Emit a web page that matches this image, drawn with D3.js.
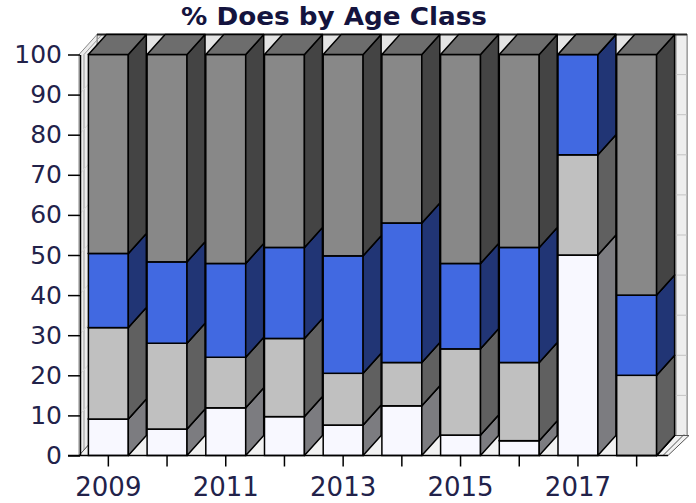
<!DOCTYPE html>
<html>
<head>
<meta charset="utf-8">
<script src="https://cdnjs.cloudflare.com/ajax/libs/d3/7.8.5/d3.min.js"></script>
<style>
  html, body { margin: 0; padding: 0; background: #ffffff; }
  svg { display: block; }
  text { font-family: "DejaVu Sans", Verdana, sans-serif; }
</style>
</head>
<body>
<svg id="chart" width="696" height="503"></svg>
<script>
// ---- data ----
const years = [2009, 2010, 2011, 2012, 2013, 2014, 2015, 2016, 2017, 2018];
const ageClassA = [9.1, 6.6, 11.9, 9.7, 7.6, 12.4, 5.1, 3.7, 50, 0];      // white
const ageClassB = [22.8, 21.4, 12.6, 19.5, 12.9, 10.8, 21.5, 19.5, 25, 20]; // silver
const ageClassC = [18.5, 20.3, 23.4, 22.7, 29.3, 34.8, 21.3, 28.7, 25, 20]; // blue
const ageClassD = [49.6, 51.7, 52.1, 48.1, 50.2, 42.0, 52.1, 48.1, 0, 60];  // dark gray
const yTicks = [0, 10, 20, 30, 40, 50, 60, 70, 80, 90, 100];
const xLabelYears = [2009, 2011, 2013, 2015, 2017];
const title = "% Does by Age Class";

const seriesKeys = ["a", "b", "c", "d"];
const frontColors = { a: "#f8f8ff", b: "#c0c0c0", c: "#4169e1", d: "#888888" };
const sideColors  = { a: "#7c7c80", b: "#606060", c: "#213575", d: "#444444" };
const topColors   = { a: "#c6c6cc", b: "#9a9a9a", c: "#3454b4", d: "#6d6d6d" };

const table = years.map((yr, i) => ({
  year: yr, a: ageClassA[i], b: ageClassB[i], c: ageClassC[i], d: ageClassD[i]
}));

// ---- layout ----
const svg = d3.select("#chart");
const X0 = 79, X1 = 666, Y0 = 455.5, Y1 = 54.5;
const DX = 18, DY = 20;

const x = d3.scaleBand().domain(years).range([X0, X1]).paddingInner(0.32).paddingOuter(0.16);
const y = d3.scaleLinear().domain([0, 100]).range([Y0, Y1]);
const bw = x.bandwidth();

const poly = pts => pts.map(p => p.join(",")).join(" ");

// back wall
svg.append("rect")
  .attr("x", X0 + DX).attr("y", Y1 - DY)
  .attr("width", X1 - X0 + 3).attr("height", Y0 - Y1)
  .attr("fill", "#e4e4e4").attr("stroke", "#777").attr("stroke-width", 1);
svg.append("rect")
  .attr("x", X1 + DX - 8).attr("y", Y1 - DY)
  .attr("width", 11).attr("height", Y0 - Y1)
  .attr("fill", "#eeeeee").attr("stroke", "#888").attr("stroke-width", 1);
// gridlines on back wall
svg.append("g").selectAll("line").data(yTicks.slice(1, -1)).join("line")
  .attr("x1", X0 + DX).attr("x2", X1 + DX + 3)
  .attr("y1", d => y(d) - DY).attr("y2", d => y(d) - DY)
  .attr("stroke", "#c4c4c4").attr("stroke-width", 1);

// left wall
svg.append("polygon")
  .attr("points", poly([[X0, Y0], [X0 + DX, Y0 - DY], [X0 + DX, Y1 - DY], [X0, Y1]]))
  .attr("fill", "#ececec").attr("stroke", "#888").attr("stroke-width", 1);
svg.append("line")
  .attr("x1", X0 + 5).attr("x2", X0 + 5).attr("y1", Y1).attr("y2", Y0)
  .attr("stroke", "#999").attr("stroke-width", 1);
svg.append("line")
  .attr("x1", X0 + 5).attr("x2", X0 + 5 + DX).attr("y1", Y1).attr("y2", Y1 - DY)
  .attr("stroke", "#999").attr("stroke-width", 1);
svg.append("g").selectAll("line").data(yTicks.slice(1, -1)).join("line")
  .attr("x1", X0).attr("x2", X0 + DX)
  .attr("y1", d => y(d)).attr("y2", d => y(d) - DY)
  .attr("stroke", "#d8d8d8").attr("stroke-width", 1);

// floor
svg.append("polygon")
  .attr("points", poly([[X0, Y0], [X1 + 2, Y0], [X1 + DX + 5, Y0 - DY], [X0 + DX, Y0 - DY]]))
  .attr("fill", "#f2f2f2").attr("stroke", "#555").attr("stroke-width", 1);
svg.append("line")
  .attr("x1", X1 - 3).attr("y1", Y0).attr("x2", X1 + DX).attr("y2", Y0 - DY - 1)
  .attr("stroke", "#555").attr("stroke-width", 1);

// top edge of back wall
svg.append("line")
  .attr("x1", X0 + DX).attr("x2", X1 + DX + 3)
  .attr("y1", Y1 - DY).attr("y2", Y1 - DY)
  .attr("stroke", "#222").attr("stroke-width", 2);

// ---- bars ----
const stacked = d3.stack().keys(seriesKeys)(table);
const barsG = svg.append("g");
years.forEach((yr, i) => {
  const g = barsG.append("g");
  const xl = x(yr), xr = xl + bw;
  stacked.forEach(layer => {
    const key = layer.key;
    const v0 = layer[i][0], v1 = layer[i][1];
    const yb = y(v0), yt = y(v1);
    g.append("rect")
      .attr("x", xl).attr("y", yt).attr("width", bw).attr("height", yb - yt)
      .attr("fill", frontColors[key]).attr("stroke", "#000").attr("stroke-width", 1.5);
    g.append("polygon")
      .attr("points", poly([[xr, yb], [xr + DX, yb - DY], [xr + DX, yt - DY], [xr, yt]]))
      .attr("fill", sideColors[key]).attr("stroke", "#000").attr("stroke-width", 1.5)
      .attr("stroke-linejoin", "round");
    g.append("polygon")
      .attr("points", poly([[xl, yt], [xr, yt], [xr + DX, yt - DY], [xl + DX, yt - DY]]))
      .attr("fill", topColors[key]).attr("stroke", "#000").attr("stroke-width", 1.5)
      .attr("stroke-linejoin", "round");
  });
});

// ---- axes ----
const textColor = "#22224a";
const yAxis = svg.append("g")
  .attr("transform", `translate(${X0 + 1},0)`)
  .call(d3.axisLeft(y).tickValues(yTicks).tickSize(12).tickSizeOuter(0).tickPadding(6));
yAxis.select(".domain").attr("stroke", "#000").attr("stroke-width", 1.5);
yAxis.selectAll(".tick line").attr("stroke", "#000").attr("stroke-width", 1.5);
yAxis.selectAll("text").attr("fill", textColor).style("font-size", "25px");

const xAxis = svg.append("g")
  .attr("transform", `translate(0,${Y0})`)
  .call(d3.axisBottom(x).tickSize(11).tickSizeOuter(0).tickPadding(11)
    .tickFormat(d => xLabelYears.includes(d) ? String(d) : ""));
xAxis.select(".domain").attr("stroke", "#000").attr("stroke-width", 1.5)
  .attr("d", `M${X0 - 11},0H${X1 + 2}`);
xAxis.selectAll(".tick line").attr("stroke", "#000").attr("stroke-width", 1.5);
xAxis.selectAll("text").attr("fill", textColor).style("font-size", "26px");

// ---- title ----
svg.append("text")
  .attr("x", 334).attr("y", 25)
  .attr("text-anchor", "middle")
  .attr("fill", "#14143e")
  .style("font-size", "25px").style("font-weight", "bold")
  .attr("textLength", 306).attr("lengthAdjust", "spacingAndGlyphs")
  .text(title);
</script>
</body>
</html>
